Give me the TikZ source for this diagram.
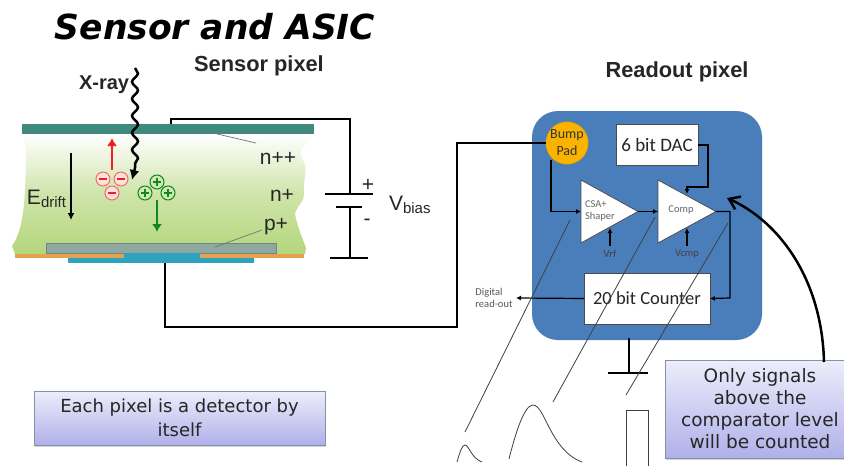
\documentclass[tikz,border=0pt]{standalone}
\usepackage{fontspec}
\setmainfont{Liberation Sans}
\newfontfamily\verd{DejaVu Sans}
\newfontfamily\carl{Carlito}
\usetikzlibrary{arrows.meta,decorations.pathmorphing,shadows,calc}
\definecolor{teal1}{HTML}{3F8A7C}
\definecolor{gray1}{HTML}{8FA8A0}
\definecolor{orange1}{HTML}{E5A050}
\definecolor{cyan1}{HTML}{2EA3BD}
\definecolor{blue1}{HTML}{4A7EBB}
\definecolor{pad1}{HTML}{F9B300}
\definecolor{green1}{HTML}{B4D67C}
\definecolor{boxtop}{HTML}{EDEDFB}
\definecolor{boxbot}{HTML}{B0B0EA}
\definecolor{red1}{HTML}{F02020}
\definecolor{red2}{HTML}{F07060}
\definecolor{green2}{HTML}{108A20}
\definecolor{thin1}{HTML}{404040}
\tikzset{
  wire/.style={draw=black,line width=1.6pt},
  sigw/.style={draw=black,line width=1.2pt,-{Latex[length=5pt,width=5pt]}},
  plain/.style={inner sep=0pt,outer sep=0pt},
  lab/.style={plain,font=\fontsize{21}{23}\selectfont,text=black!85},
  head/.style={plain,font=\fontsize{21.8}{24}\selectfont\bfseries,text=black!85},
  tiny1/.style={plain,font=\carl\fontsize{10.5}{12.5}\selectfont,text=black!65,align=left},
  tinyw/.style={plain,font=\carl\fontsize{10.5}{12}\selectfont,text=black!75},
  wbox/.style={draw=black!70,fill=white,line width=0.8pt,plain},
  amp/.style={draw=black!70,fill=white,line width=0.8pt},
  note/.style={draw=blue1!60!black!60,line width=0.6pt,top color=boxtop,bottom color=boxbot,plain,
     drop shadow={shadow xshift=1pt,shadow yshift=-1.5pt,opacity=.35},
     font=\verd\fontsize{18.5}{22}\selectfont,text=black!85,align=center},
  sweep/.style={draw=thin1,line width=0.8pt},
  minus1/.style={circle,draw=red2,fill=white!80!red2,line width=1pt,minimum size=14pt,plain},
  plus1/.style={circle,draw=green2,fill=green1!60!white,line width=1pt,minimum size=14pt,plain},
}
\begin{document}
\begin{tikzpicture}[x=1pt,y=-1pt]
\useasboundingbox (0,0) rectangle (844,466);
\fill[white] (0,0) rectangle (844,466);
% title
\node[plain,anchor=center,font=\verd\fontsize{34.5}{38}\selectfont\bfseries\itshape] (title) at (215,27) {Sensor and ASIC};
\node[head] (hs) at (259,66) {Sensor pixel};
\node[head] (hr) at (677,72) {Readout pixel};
% sensor body
\shade[top color=white,bottom color=green1,middle color=green1!65!white]
 (23,134) .. controls (27,150) and (26,170) .. (25,190) .. controls (24,215) and (20,235) .. (12,246)
 -- (15,254) -- (305,254) -- (306,248) .. controls (300,232) and (296,222) .. (295,213)
 .. controls (298,205) and (305,200) .. (304,193) .. controls (303,180) and (307,172) .. (305,165)
 .. controls (303,158) and (298,155) .. (302,148) -- (314,134) -- cycle;
\node[plain,fill=teal1,minimum width=292pt,minimum height=10pt] (nplate) at (168,129) {};
\node[plain,fill=gray1,draw=gray1!80!black,minimum width=230pt,minimum height=10pt] (pimp) at (161,248) {};
\node[plain,fill=orange1,minimum width=109pt,minimum height=4pt] (ol) at (69.5,256) {};
\node[plain,fill=orange1,minimum width=104pt,minimum height=4pt] (or) at (252,256) {};
\node[plain,fill=cyan1,minimum width=76pt,minimum height=5pt] (cu) at (162,255.5) {};
\node[plain,fill=cyan1,minimum width=186pt,minimum height=5pt] (cl) at (161,260.5) {};
% labels in sensor
\node[lab,anchor=west,font=\fontsize{20}{22}\selectfont\bfseries] (xray) at (79,85) {X-ray};
\node[lab,anchor=center] (npp) at (278,158) {n++};
\node[lab,anchor=center] (np) at (282,195) {n+};
\node[lab,anchor=center] (pp) at (276,227) {p+};
\node[lab,anchor=base west] (ed) at (27,204) {E\textsubscript{\fontsize{15}{15}\selectfont drift}};
\draw[draw=black!55,line width=0.7pt] (200,130) -- (256,143);
\draw[draw=black!55,line width=0.7pt] (215,247) -- (262,230);
% field arrows
\coordinate (e1) at (71,153); \coordinate (e2) at (71,220);
\draw[draw=black,line width=1.4pt,-{Latex[length=7pt,width=7pt]}] (e1) -- (e2);
\coordinate (r1) at (112,170); \coordinate (r2) at (112,138);
\draw[draw=red1,line width=2.5pt,-{Latex[length=8pt,width=10pt]}] (r1) -- (r2);
\coordinate (g1) at (157,200); \coordinate (g2) at (157,232);
\draw[draw=green2,line width=2.5pt,-{Latex[length=8pt,width=10pt]}] (g1) -- (g2);
% charges
\node[minus1] (m1) at (103,179) {}; \node[minus1] (m2) at (121,179) {}; \node[minus1] (m3) at (112,193) {};
\foreach \n in {m1,m2,m3} \draw[red1,line width=1.8pt] ($(\n)+(-4,0)$) -- ($(\n)+(4,0)$);
\node[plus1] (p1) at (157,182) {}; \node[plus1] (p2) at (145,193) {}; \node[plus1] (p3) at (168,193) {};
\foreach \n in {p1,p2,p3} {\draw[green2,line width=1.8pt] ($(\n)+(-4,0)$) -- ($(\n)+(4,0)$); \draw[green2,line width=1.8pt] ($(\n)+(0,-4)$) -- ($(\n)+(0,4)$);}
% x-ray
\coordinate (x1) at (135,68); \coordinate (x2) at (135,168); \coordinate (x3) at (132,180);
\draw[draw=black,line width=2.5pt,decorate,decoration={snake,amplitude=3pt,segment length=17pt}] (x1) -- (x2);
\draw[draw=black,line width=2.5pt,-{Latex[length=10pt,width=10pt]}] (x2) -- (x3);
% bias
\coordinate (t0) at (171,124); \coordinate (b1) at (350,194); \coordinate (b2) at (350,207);
\coordinate (g0) at (350,258);
\draw[wire] (t0) -- (171,119) -- (350,119) -- (b1);
\draw[wire] (325,194) -- (373,194);
\draw[wire] (336,207) -- (362,207);
\draw[wire] (b2) -- (g0);
\draw[draw=black,line width=2pt] (330,258) -- (368,258);
\node[lab] (plus) at (368,185) {+};
\node[lab] (minus) at (367,222) {-};
\node[lab,anchor=base west] (vb) at (389,210) {V\textsubscript{\fontsize{15}{15}\selectfont bias}};
% readout block
\node[plain,fill=blue1,rounded corners=26pt,minimum width=230pt,minimum height=229pt] (chip) at (647,225.5) {};
\coordinate (w0) at (165,263);
\node[circle,plain,fill=pad1,draw=pad1!85!black,minimum size=40pt,font=\carl\fontsize{14}{17}\selectfont,align=center,text=black!80] (pad) at (567,143) {Bump\\Pad};
\draw[wire] (w0) -- (165,327) -- (457,327) -- (457,143) -- (pad.west);
\node[wbox,minimum width=82pt,minimum height=41pt,font=\carl\fontsize{19}{21}\selectfont,text=black!85] (dac) at (657,145) {6 bit DAC};
\node[wbox,minimum width=126pt,minimum height=51pt,font=\carl\fontsize{18.5}{21}\selectfont,text=black!85] (cnt) at (647,298.5) {20 bit Counter};
\draw[amp] (581,180) coordinate (csa1) -- (581,243) coordinate (csa2) -- (638,211.5) coordinate (csaout) -- cycle;
\draw[amp] (658,180) coordinate (cmp1) -- (658,243) coordinate (cmp2) -- (716,211.5) coordinate (cmpout) -- cycle;
\node[tiny1,anchor=west,text=black!60] (csat) at (585,211) {CSA+\\Shaper};
\node[tinyw,anchor=center,text=black!60] (cmpt) at (681,210) {Comp};
\coordinate (csain) at (581,211.5); \coordinate (cmpin) at (658,211.5);
\draw[sigw] (551,160) -- (551,211.5) -- (csain);
\draw[sigw] (csaout) -- (cmpin);
\draw[sigw] (dac.east) -- (708,145) -- (708,187) -- (687,187) -- (687,194);
\draw[sigw] (cmpout) -- (730,211.5) -- (730,298) -- (cnt.east);
\node[tinyw] (vrf) at (610,254) {Vrf};
\node[tinyw] (vcmp) at (687,254) {Vcmp};
\draw[sigw] (610,246) -- (610,228);
\draw[sigw] (687,246) -- (687,228);
\node[tiny1] (dig) at (494,298) {Digital\\read-out};
\draw[sigw] (cnt.west) -- (516,298);
% ground
\coordinate (gr1) at (629,338); \coordinate (gr2) at (629,373);
\draw[wire,line width=2pt] (gr1) -- (gr2);
\draw[draw=black,line width=2pt] (608,373) -- (648,373);
% sweep lines and pulses
\draw[sweep] (570,220) -- (465,432);
\draw[sweep] (655,217) -- (553,402);
\draw[sweep] (728,223) -- (626,395);
\draw[sweep] (457,462) .. controls (460,452) and (462,445) .. (465,445) .. controls (469,445) and (471,458) .. (482,462);
\draw[sweep] (509,459) .. controls (515,435) and (524,405) .. (533,405) .. controls (545,405) and (550,450) .. (582,462);
\node[plain,draw=thin1,line width=0.8pt,minimum width=22pt,minimum height=70pt,anchor=north west] (rectp) at (626,410) {};
% notes
\node[note,minimum width=291pt,minimum height=54pt,font=\verd\fontsize{18}{24}\selectfont] (n1) at (179.5,418) {Each pixel is a detector by\\itself};
\node[note,minimum width=190pt,minimum height=98pt,yshift=0pt,font=\verd\fontsize{18.5}{22}\selectfont] (n2) at (760,409) {\rule{0pt}{14pt}Only signals\\above the\\comparator level\\will be counted};
% curved arrow
\coordinate (c1) at (824,362); \coordinate (c2) at (727,198);
\draw[draw=black,line width=2.5pt,-{Straight Barb[length=10pt,width=14pt]}] (c1) .. controls (822,280) and (780,222) .. (c2);
\end{tikzpicture}
\end{document}
